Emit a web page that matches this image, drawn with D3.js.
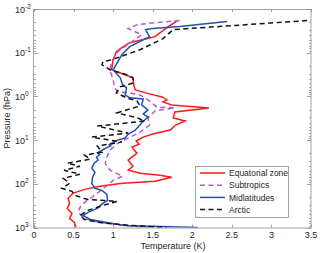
<!DOCTYPE html>
<html>
<head>
<meta charset="utf-8">
<script src="https://cdn.jsdelivr.net/npm/d3@7"></script>
<style>
body { margin: 0; background: #fff; }
text { font-family: "Liberation Sans", Arial, sans-serif; fill: #262626; }
</style>
</head>
<body>
<div id="chart"></div>
<script>
// each point: [temperature (K), pressure (hPa)]
var equatorial = [[1.81,0.0184],[1.68,0.0266],[1.53,0.0429],[1.21,0.0589],[1.11,0.0768],[1.04,0.0948],[1.00,0.145],[0.98,0.246],[1.15,0.320],[1.25,0.376],[1.26,0.544],[1.28,0.709],[1.46,0.876],[1.62,1.03],[1.68,1.20],[1.63,1.34],[1.74,1.57],[2.21,1.84],[1.78,2.27],[1.76,3.12],[1.91,3.66],[1.79,4.52],[1.72,5.89],[1.50,7.28],[1.38,8.53],[1.29,10.5],[1.33,12.4],[1.24,14.5],[1.30,19.9],[1.19,28.8],[1.25,39.6],[1.19,48.9],[1.34,57.4],[1.59,63.8],[1.74,70.9],[1.53,87.7],[1.12,97.5],[0.83,114],[0.64,134],[0.49,165],[0.43,215],[0.45,281],[0.42,366],[0.48,476],[0.45,621],[0.51,767],[0.53,1000]];
var subtropics = [[1.84,0.0184],[1.55,0.0204],[1.31,0.0227],[1.19,0.0281],[1.36,0.0386],[1.24,0.0559],[1.06,0.0948],[0.98,0.161],[0.96,0.246],[1.00,0.418],[1.02,0.638],[1.06,0.788],[1.21,0.831],[1.34,0.924],[1.44,1.20],[1.55,1.74],[1.78,1.84],[1.53,2.15],[1.44,3.12],[1.46,4.52],[1.34,6.55],[1.19,8.99],[1.06,11.7],[0.96,17.0],[0.92,24.6],[0.90,33.8],[0.96,48.9],[1.12,67.3],[1.00,83.2],[0.93,108],[0.83,149],[0.73,204],[0.64,266],[0.58,347],[0.56,452],[0.63,621],[0.83,767],[1.15,899],[1.46,1000]];
var midlatitudes = [[2.44,0.0194],[1.84,0.0253],[1.50,0.0281],[1.41,0.0296],[1.46,0.0429],[1.21,0.0728],[1.11,0.111],[1.06,0.161],[1.00,0.246],[1.09,0.376],[1.12,0.544],[1.17,0.638],[1.15,0.924],[1.21,1.08],[1.38,1.14],[1.36,1.57],[1.44,2.04],[1.38,2.53],[1.44,2.96],[1.36,4.07],[1.28,5.89],[1.19,7.28],[1.15,8.99],[1.06,10.0],[0.98,11.7],[0.95,12.8],[0.97,13.6],[0.90,15.5],[0.85,17.5],[0.80,19.5],[0.83,21.5],[0.79,24.6],[0.81,28.5],[0.76,33.8],[0.73,44.0],[0.77,54.4],[0.74,70.9],[0.73,97.5],[0.77,127],[0.86,141],[0.92,174],[0.93,239],[0.87,281],[0.80,366],[0.68,452],[0.62,530],[0.71,654],[0.92,767],[1.15,899],[1.59,948],[2.07,1000]];
var arctic = [[3.45,0.0184],[1.76,0.0296],[1.63,0.0477],[1.34,0.0853],[0.98,0.145],[0.87,0.161],[0.86,0.189],[0.96,0.246],[1.17,0.320],[1.25,0.376],[1.26,0.489],[1.09,0.605],[1.04,0.831],[1.17,1.08],[1.30,1.27],[1.34,1.65],[1.05,2.39],[1.31,3.12],[1.40,3.66],[0.80,4.77],[1.19,6.91],[0.73,8.53],[1.11,11.1],[0.80,13.7],[0.86,18.9],[0.64,22.1],[0.71,27.4],[0.42,33.8],[0.58,39.6],[0.38,48.9],[0.58,60.5],[0.37,74.8],[0.45,97.5],[0.35,127],[0.48,149],[0.52,184],[0.67,227],[1.05,252],[0.87,312],[0.68,406],[0.58,530],[0.64,654],[0.83,767],[1.21,899],[1.68,1000]];

var seriesNames = ["Equatorial zone", "Subtropics", "Midlatitudes", "Arctic"];
var seriesData = [equatorial, subtropics, midlatitudes, arctic];
var seriesColors = ["#ff1a1a", "#b35ccb", "#1f4fb8", "#111111"];
var seriesDash = [null, "5,3.5", null, "5,3.5"];

var xTicks = [0, 0.5, 1, 1.5, 2, 2.5, 3, 3.5];
var yTickExp = [-2, -1, 0, 1, 2, 3];

var width = 320, height = 253;
var pLeft = 34, pRight = 311, pTop = 9, pBottom = 227.5;

var svg = d3.select("#chart").append("svg")
    .attr("width", width)
    .attr("height", height);

var x = d3.scaleLinear().domain([0, 3.5]).range([pLeft, pRight]);
var y = d3.scaleLog().domain([0.01, 1000]).range([pTop, pBottom]);

svg.append("defs").append("clipPath")
    .attr("id", "clip")
    .append("rect")
    .attr("x", pLeft).attr("y", pTop)
    .attr("width", pRight - pLeft).attr("height", pBottom - pTop);

var axisColor = "#8a8a8a";

// x ticks, bottom and top
xTicks.forEach(function(t) {
    var px = Math.round(x(t)) + 0.5;
    svg.append("line").attr("x1", px).attr("x2", px).attr("y1", pBottom).attr("y2", pBottom - 3)
        .attr("stroke", axisColor).attr("stroke-width", 0.8);
    svg.append("line").attr("x1", px).attr("x2", px).attr("y1", pTop).attr("y2", pTop + 3)
        .attr("stroke", axisColor).attr("stroke-width", 0.8);
    svg.append("text")
        .attr("x", x(t)).attr("y", 238)
        .attr("text-anchor", "middle")
        .style("font-size", "9px")
        .text(t);
});

// y major ticks + labels
yTickExp.forEach(function(e) {
    var py = Math.round(y(Math.pow(10, e))) + 0.5;
    svg.append("line").attr("x1", pLeft).attr("x2", pLeft + 4).attr("y1", py).attr("y2", py)
        .attr("stroke", axisColor).attr("stroke-width", 0.8);
    svg.append("line").attr("x1", pRight).attr("x2", pRight - 4).attr("y1", py).attr("y2", py)
        .attr("stroke", axisColor).attr("stroke-width", 0.8);
    var t = svg.append("text")
        .attr("x", 15).attr("y", y(Math.pow(10, e)) + 3.5)
        .style("font-size", "9px");
    t.append("tspan").text("10");
    t.append("tspan").attr("dy", -4).style("font-size", "6.5px").text(e);
});

// y minor ticks
for (var e = -2; e < 3; e++) {
    for (var m = 2; m <= 9; m++) {
        var py = Math.round(y(m * Math.pow(10, e))) + 0.5;
        svg.append("line").attr("x1", pLeft).attr("x2", pLeft + 2).attr("y1", py).attr("y2", py)
            .attr("stroke", axisColor).attr("stroke-width", 0.7);
        svg.append("line").attr("x1", pRight).attr("x2", pRight - 2).attr("y1", py).attr("y2", py)
            .attr("stroke", axisColor).attr("stroke-width", 0.7);
    }
}

// frame
svg.append("rect")
    .attr("x", pLeft - 0.5).attr("y", pTop + 0.5)
    .attr("width", pRight - pLeft + 0.5).attr("height", pBottom - pTop)
    .attr("fill", "none")
    .attr("stroke", axisColor)
    .attr("stroke-width", 0.8);

var line = d3.line()
    .x(function(d) { return x(d[0]); })
    .y(function(d) { return y(d[1]); });

var lines = svg.append("g").attr("clip-path", "url(#clip)");
seriesData.forEach(function(s, i) {
    lines.append("path")
        .datum(s)
        .attr("d", line)
        .attr("fill", "none")
        .attr("stroke", seriesColors[i])
        .attr("stroke-width", 1.5)
        .attr("stroke-dasharray", seriesDash[i]);
});

// axis labels
svg.append("text")
    .attr("x", 173).attr("y", 249)
    .attr("text-anchor", "middle")
    .style("font-size", "9px")
    .text("Temperature (K)");

svg.append("text")
    .attr("transform", "translate(10," + ((pTop + pBottom) / 2) + ") rotate(-90)")
    .attr("text-anchor", "middle")
    .style("font-size", "9px")
    .text("Pressure (hPa)");

// legend
var legend = svg.append("g");
legend.append("rect")
    .attr("x", 195.5).attr("y", 166.5)
    .attr("width", 93).attr("height", 51)
    .attr("fill", "#fff")
    .attr("stroke", axisColor)
    .attr("stroke-width", 0.8);

seriesNames.forEach(function(name, i) {
    var ly = 173 + i * 12.2;
    legend.append("line")
        .attr("x1", 200).attr("x2", 225)
        .attr("y1", ly).attr("y2", ly)
        .attr("stroke", seriesColors[i])
        .attr("stroke-width", 1.5)
        .attr("stroke-dasharray", seriesDash[i]);
    legend.append("text")
        .attr("x", 229).attr("y", ly + 3.1)
        .style("font-size", "8.5px")
        .text(name);
});
</script>
</body>
</html>
